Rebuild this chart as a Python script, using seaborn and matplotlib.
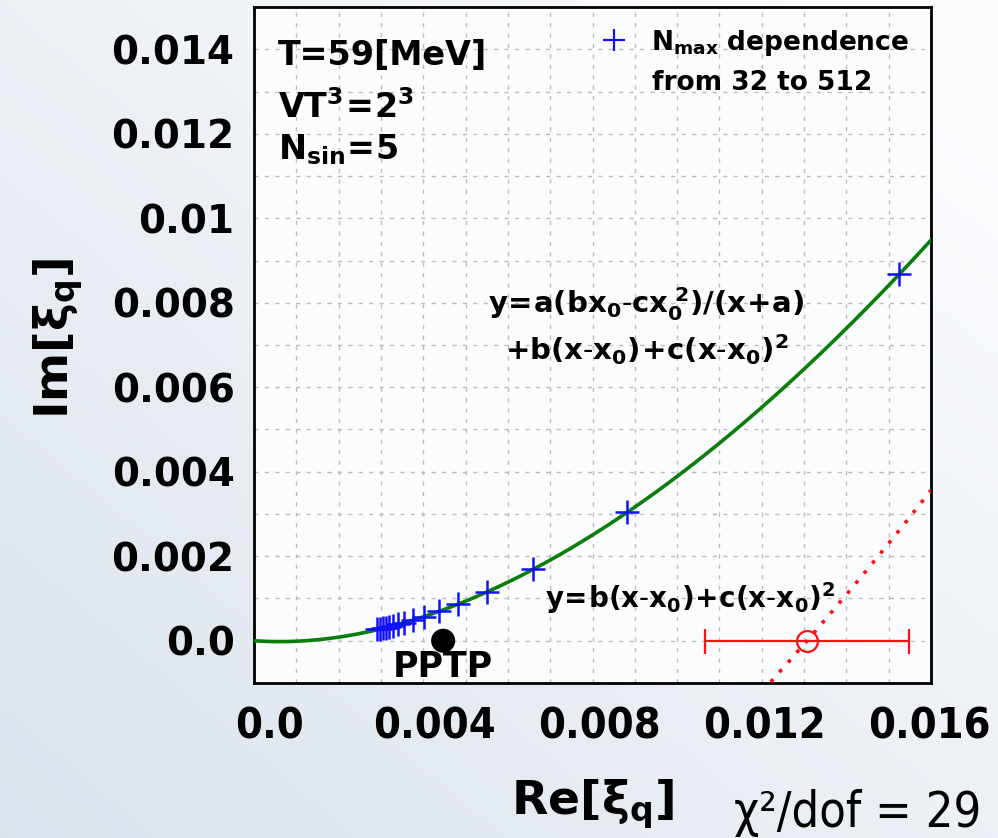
import numpy as np
import pandas as pd
import matplotlib
matplotlib.use("Agg")
import matplotlib.pyplot as plt
import matplotlib.transforms as mtransforms
from matplotlib.lines import Line2D
import seaborn as sns

# Re/Im of xi_q for N_max = 32, 64, ..., 512
n_max = [32, 64, 96, 128, 160, 192, 224, 256, 288, 320, 352, 384, 416, 448, 480, 512]
re_xi = [0.01525, 0.00882, 0.00660, 0.00551, 0.00482, 0.00437, 0.00402, 0.00376,
         0.00355, 0.00340, 0.00329, 0.00319, 0.00312, 0.00305, 0.00298, 0.00291]
im_xi = [0.00867, 0.00304, 0.00169, 0.00115, 0.00086, 0.00070, 0.00056, 0.000485,
         0.00043, 0.00039, 0.000355, 0.00033, 0.00031, 0.000295, 0.000285, 0.00027]

# fit parameters of y = a(b x0 - c x0^2)/(x+a) + b(x-x0) + c(x-x0)^2
fit_a = 0.0171
fit_b = 1.154
fit_c = 21.2
fit_x0 = 0.01307
fit_x0_err = 0.00242

# PPTP reference point
pptp_re = [0.00447]
pptp_im = [0.0]

x_tick_vals = [0.0, 0.004, 0.008, 0.012, 0.016]
x_tick_labels = ["0.0", "0.004", "0.008", "0.012", "0.016"]
y_tick_vals = [0.0, 0.002, 0.004, 0.006, 0.008, 0.010, 0.012, 0.014]
y_tick_labels = ["0.0", "0.002", "0.004", "0.006", "0.008", "0.01", "0.012", "0.014"]

sns.set_theme(style="white")
plt.rcParams["font.family"] = ["DejaVu Sans"]
plt.rcParams["mathtext.fontset"] = "dejavusans"
for key in ("text.color", "axes.labelcolor", "xtick.color", "ytick.color"):
    plt.rcParams[key] = "black"

fig = plt.figure(figsize=(9.98, 8.38), dpi=100)

# soft bluish page background
bg = fig.add_axes([0, 0, 1, 1], zorder=-10)
gy, gx = np.mgrid[0:1:200j, 0:1:200j]
t = np.clip(0.55 * gx + 0.55 * (1 - gy), 0, 1)
c0 = np.array([0.86, 0.89, 0.925])
c1 = np.array([0.985, 0.99, 0.998])
img = c0[None, None, :] * (1 - t[..., None]) + c1[None, None, :] * t[..., None]
bg.imshow(img, aspect="auto", extent=[0, 1, 0, 1], origin="upper")
bg.set_axis_off()

ax = fig.add_axes([0.2545, 0.185, 0.6784, 0.8066])
ax.set_facecolor("#fafcfe")

xmin, xmax, ymin, ymax = 0.0, 0.016, -0.001, 0.015

# fit curve and its polynomial part
xx = np.linspace(xmin, xmax, 400)
def model(x):
    return (fit_a * (fit_b * fit_x0 - fit_c * fit_x0 ** 2) / (x + fit_a)
            + fit_b * (x - fit_x0) + fit_c * (x - fit_x0) ** 2)
def poly_part(x):
    return fit_b * (x - fit_x0) + fit_c * (x - fit_x0) ** 2

curve = pd.DataFrame({"x": xx, "y": model(xx)})
sns.lineplot(data=curve, x="x", y="y", color="#0a7d0a", lw=2.6, sort=False,
             estimator=None, ax=ax, zorder=3)

xr = np.linspace(0.0118, xmax, 200)
red = pd.DataFrame({"x": xr, "y": poly_part(xr)})
sns.lineplot(data=red, x="x", y="y", color="#ff1010", lw=2.6, sort=False,
             estimator=None, ax=ax, zorder=3, linestyle=(0, (1, 2.6)))

pts = pd.DataFrame({"N": n_max, "re": re_xi, "im": im_xi})
sns.scatterplot(data=pts, x="re", y="im", marker="+", s=280, color="#1010ff",
                linewidth=1.8, ax=ax, zorder=4)

sns.scatterplot(x=pptp_re, y=pptp_im, s=300, color="black", ax=ax, zorder=4,
                edgecolor="none")

ax.errorbar([fit_x0], [0.0], xerr=[fit_x0_err], fmt="o", mfc="none", mec="#ff1010",
            ms=15, mew=1.6, ecolor="#ff1010", elinewidth=1.6, capsize=9,
            capthick=1.6, zorder=5)

ax.set_xlim(xmin, xmax)
ax.set_ylim(ymin, ymax)

ax.set_xticks(x_tick_vals)
ax.set_xticklabels(x_tick_labels, fontfamily="DejaVu Sans", fontstretch="condensed",
                   fontweight="bold", fontsize=31)
ax.set_yticks(y_tick_vals)
ax.set_yticklabels(y_tick_labels, fontweight="bold", fontsize=28)
ax.set_xticks(np.arange(0, 0.0161, 0.001), minor=True)
ax.set_yticks(np.arange(-0.001, 0.0151, 0.001), minor=True)
ax.tick_params(axis="both", which="major", direction="in", length=12, width=1.3,
               color="black", top=False, right=False)
ax.tick_params(axis="both", which="minor", direction="in", length=7, width=1.1,
               color="black")
ax.tick_params(axis="x", which="major", pad=16)
ax.tick_params(axis="y", which="major", pad=14)
# nudge the x tick labels slightly to the right (less toward the right edge)
for lbl, dx in zip(ax.get_xticklabels(), [16, 11, 7, 3, -2]):
    lbl.set_transform(lbl.get_transform()
                      + mtransforms.ScaledTranslation(dx / 100, 0, fig.dpi_scale_trans))
ax.grid(True, which="both", color="#bcbcbc", linestyle=(0, (3, 4.5)), linewidth=1.0)
ax.set_axisbelow(True)
for s in ax.spines.values():
    s.set_visible(True)
    s.set_color("black")
    s.set_linewidth(2.0)

ax.set_xlabel(r"$\mathbf{Re[\xi_q]}$", fontsize=34, fontfamily="DejaVu Sans")
ax.xaxis.set_label_coords(0.5, -0.14)
ax.set_ylabel(r"$\mathbf{Im[\xi_q]}$", fontsize=34)
ax.yaxis.set_label_coords(-0.25, 0.51)

fig.text(0.735, 0.013, "χ²/dof = 29", fontsize=35, fontfamily="DejaVu Sans",
         fontstretch="condensed", ha="left", va="baseline")

tk = dict(transform=ax.transAxes, fontweight="bold", color="black")
ax.text(0.035, 0.914, "T=59[MeV]", fontsize=24, va="baseline", **tk)
ax.text(0.035, 0.836, r"$\mathbf{VT^3\!=\!2^3}$", fontsize=24, va="baseline", **tk)
ax.text(0.035, 0.774, r"$\mathbf{N_{sin}\!=\!5}$", fontsize=24, va="baseline", **tk)

ax.text(0.58, 0.547, r"$\mathbf{y\!=\!a(bx_0\text{-}cx_0^{\ 2})/(x\!+\!a)}$", fontsize=21,
        ha="center", va="baseline", **tk)
ax.text(0.58, 0.478, r"$\mathbf{+b(x\text{-}x_0)\!+\!c(x\text{-}x_0)^2}$", fontsize=21,
        ha="center", va="baseline", **tk)
ax.text(0.43, 0.111, r"$\mathbf{y\!=\!b(x\text{-}x_0)\!+\!c(x\text{-}x_0)^2}$", fontsize=20,
        ha="left", va="baseline", **tk)
ax.text(0.279, 0.009, "PPTP", fontsize=25, ha="center", va="baseline", **tk)

handle = Line2D([], [], marker="+", color="#1010ff", linestyle="none", ms=16, mew=1.6)
leg = ax.legend([handle], [r"$\mathbf{N_{max}}$ dependence"],
                loc="upper left", bbox_to_anchor=(0.497, 0.985), frameon=False,
                prop={"weight": "bold", "size": 19}, handletextpad=0.9,
                handlelength=1.0, borderaxespad=0)
for txt in leg.get_texts():
    txt.set_color("black")
ax.text(0.588, 0.877, "from 32 to 512", fontsize=19, ha="left", va="baseline", **tk)

fig.savefig("out.png", dpi=100)
